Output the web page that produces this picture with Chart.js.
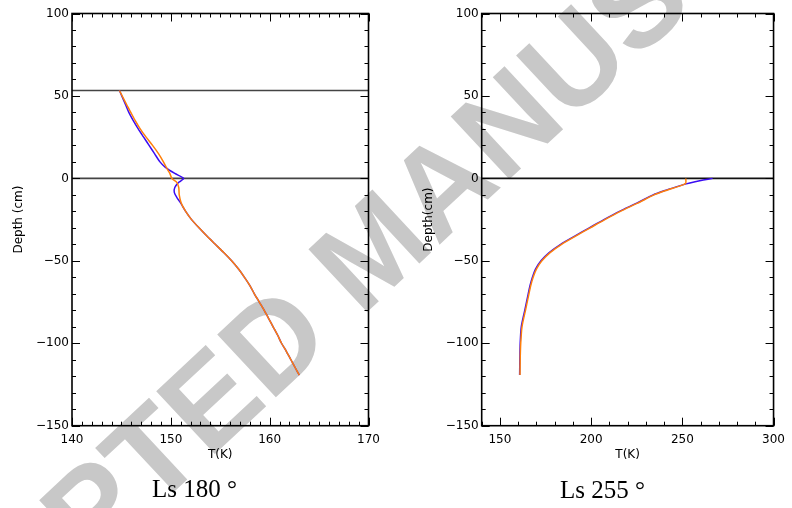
<!DOCTYPE html>
<html>
<head>
<meta charset="utf-8">
<script src="https://cdn.jsdelivr.net/npm/chart.js@4.4.1/dist/chart.umd.min.js"></script>
<style>
  html, body { margin: 0; padding: 0; background: #fff; }
  #page { position: relative; width: 792px; height: 508px; overflow: hidden; background: #fff; }
  #stamp {
    position: absolute; left: 372px; top: 248px;
    transform: translate(-50%, -50%) rotate(-43deg);
    font: bold 125px "Liberation Sans", Arial, sans-serif;
    color: #c8c8c8; white-space: nowrap; line-height: 1;
  }
  canvas { position: absolute; top: 0; }
  .caption {
    position: absolute; font: 25px "Liberation Serif", "Times New Roman", serif;
    line-height: 25px; color: #000; white-space: pre;
  }
</style>
</head>
<body>
<div id="page">
  <div id="stamp">ACCEPTED MANUSCRIPT</div>
  <canvas id="ls180" width="396" height="508" style="left:0"></canvas>
  <canvas id="ls255" width="396" height="508" style="left:396px"></canvas>
  <div class="caption" style="left:152px; top:476px">Ls 180 °</div>
  <div class="caption" style="left:560px; top:477px">Ls 255 °</div>
</div>
<script>
// tick labels
const depthTicks = [100, 50, 0, -50, -100, -150];
const tempTicksLs180 = [140, 150, 160, 170];
const tempTicksLs255 = [150, 200, 250, 300];

// Ls 180 profiles (depth in cm, temperature in K)
const depthLs180Orange = [53.3, 45, 40, 35, 30, 25, 20, 15, 10, 5, 3, 0, -2.4, -5.5, -10, -15, -20, -25, -30, -35, -40, -45, -50, -55, -60, -65, -70, -75, -80, -85, -90, -95, -100, -105, -110, -115, -119.3];
const tempLs180Orange = [144.8, 145.5, 145.95, 146.4, 146.9, 147.5, 148.15, 148.75, 149.25, 149.7, 149.9, 150.1, 150.6, 150.8, 150.85, 151.05, 151.5, 152.1, 152.85, 153.65, 154.5, 155.35, 156.15, 156.85, 157.45, 158.0, 158.45, 158.95, 159.45, 159.9, 160.35, 160.8, 161.2, 161.7, 162.15, 162.6, 163.0];
const depthLs180Blue = [53.3, 45, 40, 35, 30, 25, 20, 15, 10, 6.7, 3, 0, -2.4, -5.5, -8.5, -11.5, -15, -20, -25, -30, -35, -40, -45, -50, -55, -60, -65, -70, -75, -80, -85, -90, -95, -100, -105, -110, -115, -119.3];
const tempLs180Blue = [144.8, 145.4, 145.75, 146.2, 146.7, 147.25, 147.8, 148.35, 148.9, 149.45, 150.4, 151.3, 150.8, 150.4, 150.35, 150.6, 151.0, 151.5, 152.1, 152.85, 153.65, 154.5, 155.35, 156.15, 156.85, 157.45, 158.0, 158.45, 158.95, 159.45, 159.9, 160.35, 160.8, 161.2, 161.7, 162.15, 162.6, 163.0];
const refDepthsLs180 = [53.3, 0];

// Ls 255 profiles
const depthLs255Blue = [0, -1, -2, -3.5, -5, -7.5, -10, -15, -20, -25, -30, -35, -40, -45, -50, -55, -60, -65, -70, -80, -90, -100, -110, -119.3];
const tempLs255Blue = [266.6, 261.5, 257, 251.5, 247, 240, 234, 225, 215.5, 207, 199, 191, 183.3, 177, 172.5, 169.5, 167.8, 166.5, 165.5, 163.6, 161.7, 161.1, 160.9, 160.8];
const depthLs255Orange = [0, -2.8, -3.6, -5, -7.5, -10, -15, -20, -25, -30, -35, -40, -45, -50, -55, -60, -65, -70, -80, -90, -100, -110, -119.3];
const tempLs255Orange = [251.9, 251.9, 250.9, 247.5, 240.5, 234.5, 225.5, 216, 207.5, 199.5, 191.5, 183.8, 177.5, 173, 170, 168.2, 166.9, 165.9, 164, 162.1, 161.4, 161.1, 161.0];
const refDepthsLs255 = [0];

const BLUE = '#3a0cf2';
const ORANGE = '#ff7f0a';
const tickFont = { family: '"DejaVu Sans", sans-serif', size: 12 };
const titleFont = { family: '"DejaVu Sans", sans-serif', size: 12 };

const toPoints = (temps, depths) => temps.map((t, i) => ({ x: t, y: depths[i] }));
const minusLabel = v => (v < 0 ? '\u2212' + Math.abs(v) : String(v));

// IDL style frame: box around the plot with inward ticks on all four sides
const innerTicks = {
  id: 'innerTicks',
  afterDatasetsDraw(chart, args, opts) {
    const { ctx, chartArea: a, scales: { x, y } } = chart;
    ctx.save();
    ctx.strokeStyle = '#000';
    ctx.lineWidth = 1;
    ctx.beginPath();
    for (let v = x.min; v <= x.max; v += opts.xStep) {
      const px = Math.round(x.getPixelForValue(v)) + 0.5;
      const len = opts.xMajor.includes(v) ? 8 : 4;
      ctx.moveTo(px, a.bottom); ctx.lineTo(px, a.bottom - len);
      ctx.moveTo(px, a.top); ctx.lineTo(px, a.top + len);
    }
    for (let v = y.min; v <= y.max; v += opts.yStep) {
      const py = Math.round(y.getPixelForValue(v)) + 0.5;
      const len = depthTicks.includes(v) ? 8 : 4;
      ctx.moveTo(a.left, py); ctx.lineTo(a.left + len, py);
      ctx.moveTo(a.right, py); ctx.lineTo(a.right - len, py);
    }
    ctx.stroke();
    ctx.lineWidth = 1.6;
    ctx.strokeRect(a.left, a.top, a.right - a.left, a.bottom - a.top);
    ctx.restore();
  }
};

function refLine(depth, xmin, xmax, color) {
  return {
    data: [{ x: xmin, y: depth }, { x: xmax, y: depth }],
    borderColor: color, borderWidth: 1.6, pointRadius: 0, tension: 0
  };
}

function profileChart(id, cfg) {
  return new Chart(document.getElementById(id), {
    type: 'line',
    data: {
      datasets: [
        { data: cfg.orange, borderColor: ORANGE, borderWidth: 1.5, pointRadius: 0, tension: 0.25 },
        { data: cfg.blue, borderColor: BLUE, borderWidth: 1.5, pointRadius: 0, tension: 0.25 },
        ...cfg.refs.map(d => refLine(d, cfg.xmin, cfg.xmax, cfg.refColor))
      ]
    },
    options: {
      responsive: false,
      animation: false,
      layout: { padding: { top: 13.5, right: cfg.padRight, bottom: 0, left: 0 } },
      plugins: {
        legend: { display: false },
        tooltip: { enabled: false },
        innerTicks: { xStep: cfg.xStep, xMajor: cfg.xTicks, yStep: 10 }
      },
      scales: {
        x: {
          type: 'linear', min: cfg.xmin, max: cfg.xmax,
          afterBuildTicks: s => { s.ticks = cfg.xTicks.map(v => ({ value: v })); },
          afterFit: s => { s.height = 82.3; },
          grid: { display: false, drawTicks: false }, border: { display: false },
          ticks: { autoSkip: false, maxRotation: 0, padding: 7, color: '#000', font: tickFont },
          title: { display: true, text: 'T(K)', color: '#000', font: titleFont, padding: { top: 0, bottom: 46 } }
        },
        y: {
          type: 'linear', min: -150, max: 100,
          afterBuildTicks: s => { s.ticks = depthTicks.map(v => ({ value: v })); },
          afterFit: s => { s.width = cfg.yWidth; },
          grid: { display: false, drawTicks: false }, border: { display: false },
          ticks: { autoSkip: false, padding: 3, color: '#000', font: tickFont, callback: minusLabel },
          title: { display: true, text: cfg.yTitle, color: '#000', font: titleFont, padding: { top: cfg.yTitlePad, bottom: 0 } }
        }
      }
    },
    plugins: [innerTicks]
  });
}

profileChart('ls180', {
  orange: toPoints(tempLs180Orange, depthLs180Orange),
  blue: toPoints(tempLs180Blue, depthLs180Blue),
  refs: refDepthsLs180, refColor: '#444',
  xmin: 140, xmax: 170, xStep: 1, xTicks: tempTicksLs180,
  padRight: 27.5, yWidth: 72, yTitle: 'Depth (cm)', yTitlePad: 12
});

profileChart('ls255', {
  orange: toPoints(tempLs255Orange, depthLs255Orange),
  blue: toPoints(tempLs255Blue, depthLs255Blue),
  refs: refDepthsLs255, refColor: '#111',
  xmin: 140, xmax: 300, xStep: 10, xTicks: tempTicksLs255,
  padRight: 13.7, yWidth: 85.7, yTitle: 'Depth(cm)', yTitlePad: 26
});
</script>
</body>
</html>
